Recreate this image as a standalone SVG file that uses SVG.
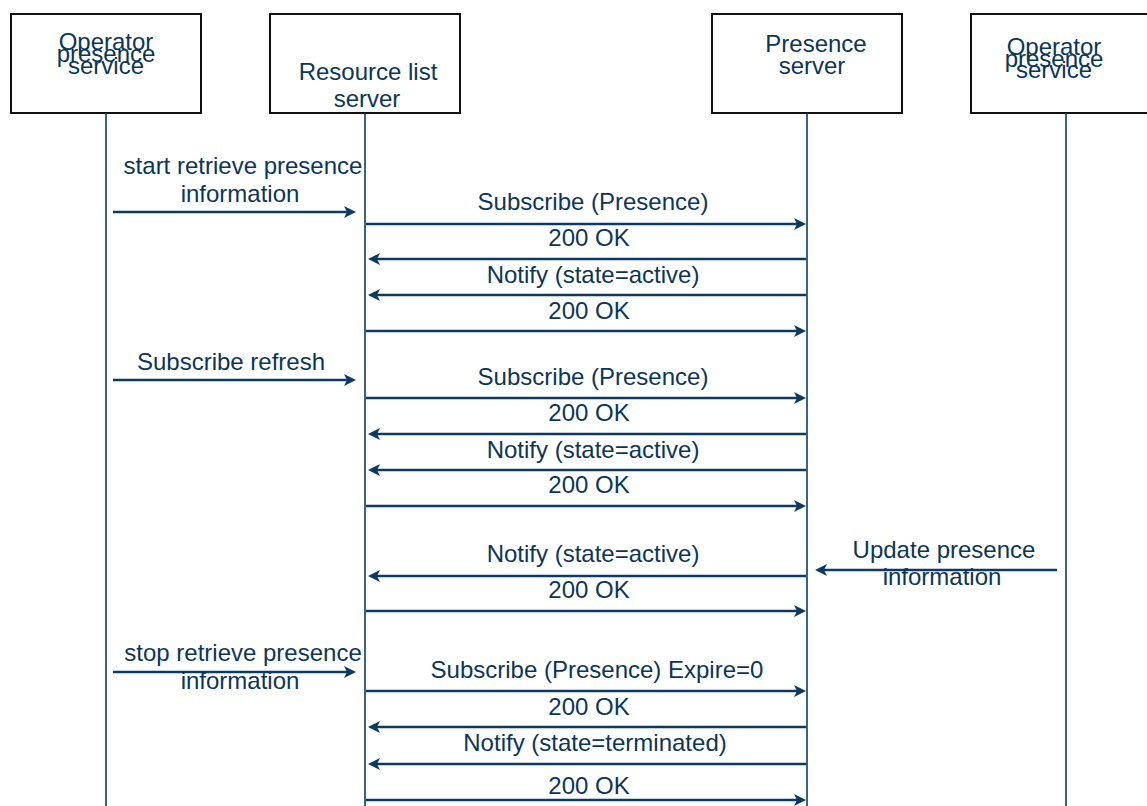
<svg xmlns="http://www.w3.org/2000/svg" width="1147" height="806" viewBox="0 0 1147 806">
  <style>
    .box { fill: #ffffff; stroke: #111111; stroke-width: 2; }
    .life { stroke: #0d3a60; stroke-width: 1.6; fill: none; }
    .msg { stroke: #0d3a60; stroke-width: 2.6; fill: none; }
    .fwd { marker-end: url(#head); }
    text { font-family: "Liberation Sans", Arial, sans-serif; font-size: 24px; fill: #0c3658; text-anchor: middle; }
  </style>
  <defs>
    <marker id="head" markerUnits="userSpaceOnUse" viewBox="0 0 12 12" markerWidth="12" markerHeight="12" refX="8" refY="6" orient="auto">
      <path d="M0,0 L12,6 L0,12 L3,6 z" fill="#0d3a60"/>
    </marker>
  </defs>

  <!-- participants -->
  <g id="operator-left">
    <rect class="box" x="11" y="14" width="190" height="99"/>
    <text x="106" y="50">Operator</text>
    <text x="106" y="62">presence</text>
    <text x="106" y="74">service</text>
  </g>
  <g id="resource-list-server">
    <rect class="box" x="270" y="14" width="190" height="99"/>
    <text x="368" y="80">Resource list</text>
    <text x="367" y="107">server</text>
  </g>
  <g id="presence-server">
    <rect class="box" x="712" y="14" width="190" height="99"/>
    <text x="816" y="52">Presence</text>
    <text x="812" y="74">server</text>
  </g>
  <g id="operator-right">
    <rect class="box" x="971" y="14" width="190" height="99"/>
    <text x="1054" y="55">Operator</text>
    <text x="1054" y="67">presence</text>
    <text x="1054" y="78">service</text>
  </g>

  <!-- lifelines -->
  <g id="lifelines">
    <line class="life" x1="106" y1="113" x2="106" y2="806"/>
    <line class="life" x1="365" y1="113" x2="365" y2="806"/>
    <line class="life" x1="807" y1="113" x2="807" y2="806"/>
    <line class="life" x1="1066" y1="113" x2="1066" y2="806"/>
  </g>

  <!-- messages -->
  <g id="connectors">
    <line class="msg fwd" x1="113" y1="212" x2="352" y2="212"/>
    <line class="msg fwd" x1="366" y1="224" x2="802" y2="224"/>
    <line class="msg fwd" x1="806" y1="259" x2="372" y2="259"/>
    <line class="msg fwd" x1="806" y1="295" x2="372" y2="295"/>
    <line class="msg fwd" x1="366" y1="331" x2="802" y2="331"/>

    <line class="msg fwd" x1="113" y1="380" x2="352" y2="380"/>
    <line class="msg fwd" x1="366" y1="398" x2="802" y2="398"/>
    <line class="msg fwd" x1="806" y1="434" x2="372" y2="434"/>
    <line class="msg fwd" x1="806" y1="470" x2="372" y2="470"/>
    <line class="msg fwd" x1="366" y1="506" x2="802" y2="506"/>

    <line class="msg fwd" x1="1057" y1="570" x2="819" y2="570"/>
    <line class="msg fwd" x1="806" y1="576" x2="372" y2="576"/>
    <line class="msg fwd" x1="366" y1="611" x2="802" y2="611"/>

    <line class="msg fwd" x1="113" y1="672" x2="352" y2="672"/>
    <line class="msg fwd" x1="366" y1="691" x2="802" y2="691"/>
    <line class="msg fwd" x1="806" y1="727" x2="372" y2="727"/>
    <line class="msg fwd" x1="806" y1="764" x2="372" y2="764"/>
    <line class="msg fwd" x1="366" y1="800" x2="802" y2="800"/>
  </g>

  <!-- message labels -->
  <g id="labels">
    <text x="243" y="174">start retrieve presence</text>
    <text x="240" y="202">information</text>
    <text x="593" y="210">Subscribe (Presence)</text>
    <text x="589" y="246">200 OK</text>
    <text x="593" y="283">Notify (state=active)</text>
    <text x="589" y="319">200 OK</text>

    <text x="231" y="370">Subscribe refresh</text>
    <text x="593" y="385">Subscribe (Presence)</text>
    <text x="589" y="421">200 OK</text>
    <text x="593" y="458">Notify (state=active)</text>
    <text x="589" y="493">200 OK</text>

    <text x="944" y="558">Update presence</text>
    <text x="942" y="585">information</text>
    <text x="593" y="562">Notify (state=active)</text>
    <text x="589" y="598">200 OK</text>

    <text x="243" y="661">stop retrieve presence</text>
    <text x="240" y="689">information</text>
    <text x="597" y="678">Subscribe (Presence) Expire=0</text>
    <text x="589" y="715">200 OK</text>
    <text x="595" y="751">Notify (state=terminated)</text>
    <text x="589" y="794">200 OK</text>
  </g>
</svg>
